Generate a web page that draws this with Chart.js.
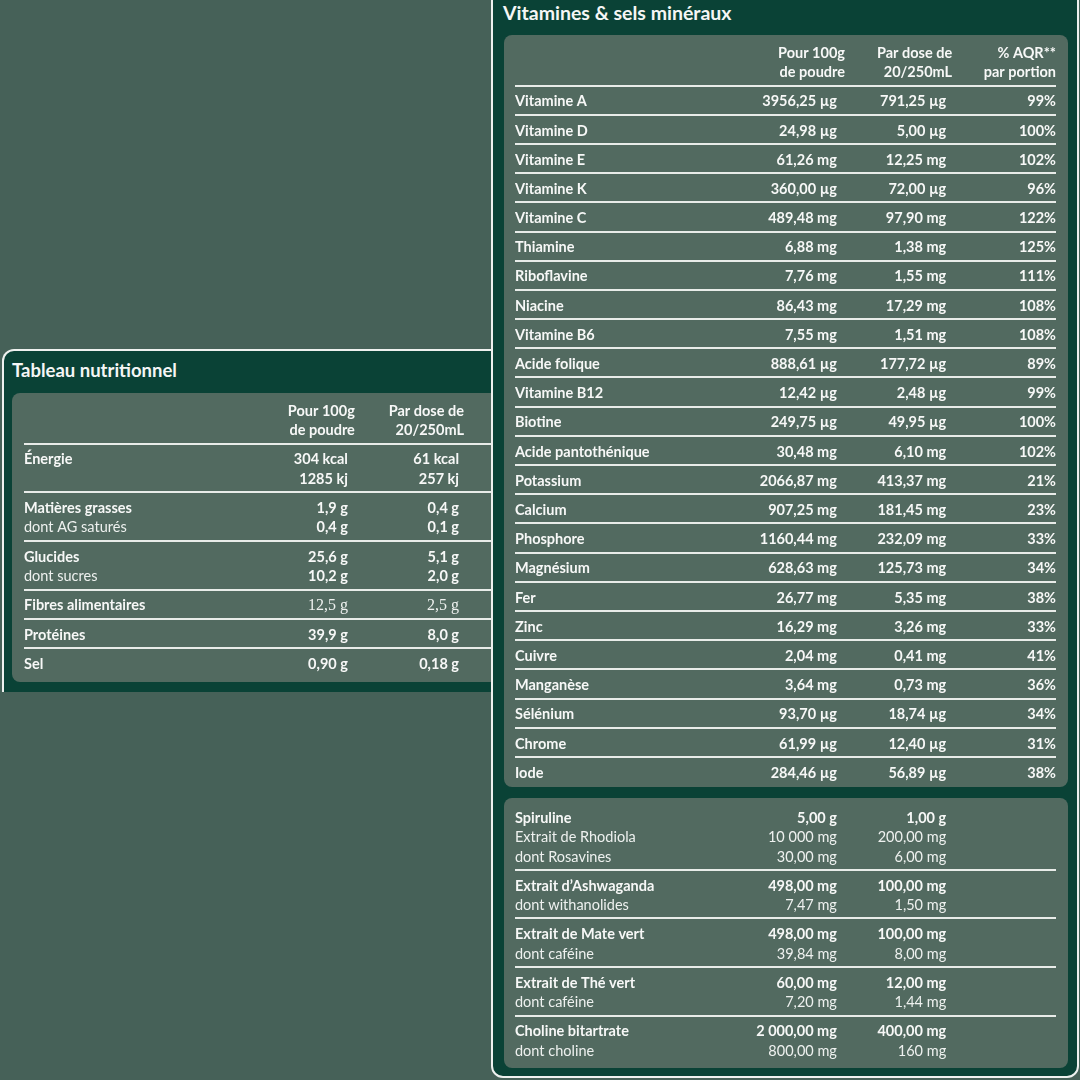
<!DOCTYPE html>
<html lang="fr">
<head>
<meta charset="utf-8">
<title>Tableau nutritionnel</title>
<script src="https://cdn.jsdelivr.net/npm/chart.js@4.4.1/dist/chart.umd.min.js"></script>
<style>
  html, body { margin: 0; padding: 0; }
  body { width: 1080px; height: 1080px; background: #466158; position: relative; overflow: hidden; font-family: Lato, sans-serif; }
  .panel { position: absolute; box-sizing: border-box; background: #0a4236; border: 2px solid #eef1ef; }
  #leftPanel { left: 2px; top: 349px; width: 520px; height: 343px; border-bottom: none; border-radius: 12px 0 0 0; }
  #rightPanel { left: 491px; top: -20px; width: 588px; height: 1098px; border-radius: 0 0 12px 12px; }
  .title { position: absolute; color: #f5f6f5; font-weight: 700; line-height: 22px; white-space: nowrap; }
  .box { position: absolute; background: #526a60; border-radius: 8px; }
  canvas { position: absolute; }
</style>
</head>
<body>
<div class="panel" id="leftPanel"></div>
<div class="title" style="left:12px; top:359px; font-size:18.5px;">Tableau nutritionnel</div>
<div class="box" style="left:12px; top:393px; width:520px; height:289px;"></div>
<canvas id="nutriChart"></canvas>

<div class="panel" id="rightPanel"></div>
<div class="title" style="left:503px; top:2px; font-size:19.5px;">Vitamines &amp; sels minéraux</div>
<div class="box" style="left:504px; top:35px; width:564px; height:752px;"></div>
<div class="box" style="left:504px; top:798px; width:564px; height:270px;"></div>
<canvas id="vitChart"></canvas>
<canvas id="extraChart"></canvas>

<script>
// ---- data ----
const nutriNames = ['Énergie', '', 'Matières grasses', 'dont AG saturés', 'Glucides', 'dont sucres',
  'Fibres alimentaires', 'Protéines', 'Sel'];
const nutriPer100 = ['304 kcal', '1285 kj', '1,9 g', '0,4 g', '25,6 g', '10,2 g', '12,5 g', '39,9 g', '0,90 g'];
const nutriPerDose = ['61 kcal', '257 kj', '0,4 g', '0,1 g', '5,1 g', '2,0 g', '2,5 g', '8,0 g', '0,18 g'];
const nutriGroups = [0, 0, 1, 1, 2, 2, 3, 4, 5];
const nutriSub = [false, false, false, true, false, true, false, false, false];

const vitNames = ['Vitamine A', 'Vitamine D', 'Vitamine E', 'Vitamine K', 'Vitamine C', 'Thiamine',
  'Riboflavine', 'Niacine', 'Vitamine B6', 'Acide folique', 'Vitamine B12', 'Biotine',
  'Acide pantothénique', 'Potassium', 'Calcium', 'Phosphore', 'Magnésium', 'Fer', 'Zinc',
  'Cuivre', 'Manganèse', 'Sélénium', 'Chrome', 'Iode'];
const vitPer100 = ['3956,25 µg', '24,98 µg', '61,26 mg', '360,00 µg', '489,48 mg', '6,88 mg',
  '7,76 mg', '86,43 mg', '7,55 mg', '888,61 µg', '12,42 µg', '249,75 µg', '30,48 mg',
  '2066,87 mg', '907,25 mg', '1160,44 mg', '628,63 mg', '26,77 mg', '16,29 mg', '2,04 mg',
  '3,64 mg', '93,70 µg', '61,99 µg', '284,46 µg'];
const vitPerDose = ['791,25 µg', '5,00 µg', '12,25 mg', '72,00 µg', '97,90 mg', '1,38 mg',
  '1,55 mg', '17,29 mg', '1,51 mg', '177,72 µg', '2,48 µg', '49,95 µg', '6,10 mg',
  '413,37 mg', '181,45 mg', '232,09 mg', '125,73 mg', '5,35 mg', '3,26 mg', '0,41 mg',
  '0,73 mg', '18,74 µg', '12,40 µg', '56,89 µg'];
const vitAqr = ['99%', '100%', '102%', '96%', '122%', '125%', '111%', '108%', '108%', '89%',
  '99%', '100%', '102%', '21%', '23%', '33%', '34%', '38%', '33%', '41%', '36%', '34%', '31%', '38%'];

const extraNames = ['Spiruline', 'Extrait de Rhodiola', 'dont Rosavines', 'Extrait d’Ashwaganda',
  'dont withanolides', 'Extrait de Mate vert', 'dont caféine', 'Extrait de Thé vert',
  'dont caféine', 'Choline bitartrate', 'dont choline'];
const extraPer100 = ['5,00 g', '10 000 mg', '30,00 mg', '498,00 mg', '7,47 mg', '498,00 mg',
  '39,84 mg', '60,00 mg', '7,20 mg', '2 000,00 mg', '800,00 mg'];
const extraPerDose = ['1,00 g', '200,00 mg', '6,00 mg', '100,00 mg', '1,50 mg', '100,00 mg',
  '8,00 mg', '12,00 mg', '1,44 mg', '400,00 mg', '160 mg'];
const extraGroups = [0, 0, 0, 1, 1, 2, 2, 3, 3, 4, 4];

const headPer100 = ['Pour 100g', 'de poudre'];
const headPerDose = ['Par dose de', '20/250mL'];
const headAqr = ['% AQR**', 'par portion'];

// ---- layout ----
const UNIT = 19.45;       // px per text line
const SEP_OFFSET = 0.7;   // separator sits a bit below the last line of a block
const FONT = 'Lato, "Noto Sans", sans-serif';
const SIZE = 14.5;
const BOLD_COLOR = '#f7f8f7';
const REG_COLOR = '#eef1ef';
const LINE_COLOR = '#e8ece9';

function layoutRows(groups, hasHeader) {
  const ys = [];
  const seps = hasHeader ? [1 + SEP_OFFSET] : [];
  let y = hasHeader ? 1 : -1;
  let prev = hasHeader ? null : groups[0];
  groups.forEach((g, i) => {
    const newBlock = g !== prev;
    if (newBlock && i > 0) seps.push(ys[i - 1] + SEP_OFFSET);
    y += newBlock ? 1.5 : 1;
    ys.push(y);
    prev = g;
  });
  return { ys, seps };
}

const tableText = {
  id: 'tableText',
  afterDatasetsDraw(chart) {
    const ctx = chart.ctx;
    chart.data.datasets.forEach((ds, d) => {
      const meta = chart.getDatasetMeta(d);
      meta.data.forEach((pt, i) => {
        const cell = ds.data[i];
        if (!cell.text) return;
        ctx.save();
        if (cell.serif) {
          ctx.font = '400 ' + (SIZE + 1.5) + 'px "Liberation Serif", serif';
          ctx.fillStyle = REG_COLOR;
        } else {
          ctx.font = (cell.bold ? '700 ' : '400 ') + SIZE + 'px ' + FONT;
          ctx.fillStyle = cell.bold ? BOLD_COLOR : REG_COLOR;
        }
        ctx.textAlign = ds.align;
        ctx.textBaseline = 'alphabetic';
        ctx.fillText(cell.text, pt.x, pt.y + SIZE * 0.36);
        ctx.restore();
      });
    });
  }
};

function makeTable(id, t) {
  const hasHeader = !!t.headers;
  const rows = layoutRows(t.groups, hasHeader);
  const yMin = -1;
  const yMax = rows.ys[rows.ys.length - 1] + 1;
  const canvas = document.getElementById(id);
  canvas.width = t.width;
  canvas.height = Math.round((yMax - yMin) * UNIT);
  canvas.style.left = t.left + 'px';
  canvas.style.top = Math.round(t.firstLine - UNIT) + 'px';

  const datasets = [];
  t.columns.forEach((col, c) => {
    datasets.push({
      align: c === 0 ? 'left' : 'right',
      data: col.map((text, i) => ({
        x: t.colX[c],
        y: rows.ys[i],
        text: text,
        bold: c === 0 ? t.boldLabel(i) : t.boldValue(i),
        serif: c > 0 && (t.serifRows || []).includes(i)
      }))
    });
    if (hasHeader && c > 0) {
      datasets.push({
        align: 'right',
        data: t.headers[c - 1].map((text, i) => ({ x: t.headX[c - 1], y: i, text: text, bold: true }))
      });
    }
  });

  return new Chart(canvas, {
    type: 'scatter',
    data: { datasets: datasets },
    options: {
      responsive: false,
      animation: false,
      events: [],
      devicePixelRatio: 1,
      layout: { padding: 0 },
      elements: { point: { radius: 0, hoverRadius: 0 } },
      plugins: { legend: { display: false }, tooltip: { enabled: false } },
      scales: {
        x: { type: 'linear', min: 0, max: 1, display: false },
        y: {
          type: 'linear', reverse: true, min: yMin, max: yMax,
          ticks: { display: false },
          grid: { color: LINE_COLOR, lineWidth: 2, drawTicks: false },
          border: { display: false },
          afterBuildTicks: (scale) => { scale.ticks = rows.seps.map(v => ({ value: v })); }
        }
      }
    },
    plugins: [tableText]
  });
}

makeTable('nutriChart', {
  left: 24, width: 496, firstLine: 410.5,
  columns: [nutriNames, nutriPer100, nutriPerDose],
  headers: [headPer100, headPerDose],
  colX: [0, 0.653, 0.877],
  headX: [0.667, 0.887],
  groups: nutriGroups,
  serifRows: [6],
  boldLabel: i => !nutriSub[i],
  boldValue: i => true
});

makeTable('vitChart', {
  left: 515, width: 541, firstLine: 52,
  columns: [vitNames, vitPer100, vitPerDose, vitAqr],
  headers: [headPer100, headPerDose, headAqr],
  colX: [0, 0.595, 0.797, 1],
  headX: [0.610, 0.808, 1],
  groups: vitNames.map((n, i) => i),
  boldLabel: i => true,
  boldValue: i => true
});

makeTable('extraChart', {
  left: 515, width: 541, firstLine: 817,
  columns: [extraNames, extraPer100, extraPerDose],
  headers: null,
  colX: [0, 0.595, 0.797],
  groups: extraGroups,
  boldLabel: i => i === 0 || extraGroups[i] !== extraGroups[i - 1],
  boldValue: i => i === 0 || extraGroups[i] !== extraGroups[i - 1]
});
</script>
</body>
</html>
